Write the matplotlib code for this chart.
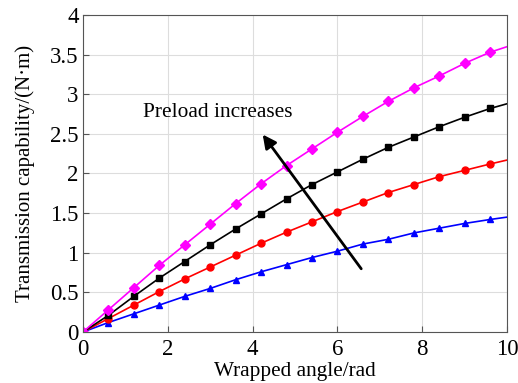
import numpy as np
import matplotlib.pyplot as plt

plt.rcParams['font.family'] = ['Liberation Serif', 'DejaVu Serif']

# wrapped angle (rad), markers every 0.6 rad, curve ends at 10
angle = [0, 0.6, 1.2, 1.8, 2.4, 3.0, 3.6, 4.2, 4.8, 5.4, 6.0, 6.6, 7.2, 7.8, 8.4, 9.0, 9.6, 10.0]

# transmission capability for four preload levels (low -> high)
torque_blue = [0, 0.12, 0.23, 0.34, 0.45, 0.55, 0.66, 0.76, 0.85, 0.94, 1.02, 1.11, 1.17, 1.25, 1.31, 1.37, 1.42, 1.45]
torque_red = [0, 0.17, 0.34, 0.51, 0.67, 0.82, 0.97, 1.12, 1.26, 1.39, 1.52, 1.64, 1.76, 1.86, 1.96, 2.04, 2.12, 2.17]
torque_black = [0, 0.21, 0.45, 0.68, 0.89, 1.10, 1.30, 1.49, 1.68, 1.86, 2.02, 2.18, 2.33, 2.46, 2.59, 2.71, 2.82, 2.88]
torque_magenta = [0, 0.28, 0.56, 0.84, 1.10, 1.36, 1.62, 1.87, 2.10, 2.31, 2.52, 2.72, 2.91, 3.08, 3.23, 3.39, 3.53, 3.60]

xticks = [0, 2, 4, 6, 8, 10]
yticks = [0, 0.5, 1, 1.5, 2, 2.5, 3, 3.5, 4]
ytick_labels = ["0", "0.5", "1", "1.5", "2", "2.5", "3", "3.5", "4"]

fig = plt.figure(figsize=(5.18, 3.83), dpi=100)
ax = fig.add_axes([0.160, 0.133, 0.819, 0.828])

marks = list(range(len(angle) - 1))  # no marker at the end point
ax.plot(angle, torque_blue, color='blue', lw=1.2, marker='^', ms=5, markevery=marks)
ax.plot(angle, torque_red, color='red', lw=1.2, marker='o', ms=5, markevery=marks)
ax.plot(angle, torque_black, color='black', lw=1.2, marker='s', ms=3.8, markevery=marks)
ax.plot(angle, torque_magenta, color='magenta', lw=1.2, marker='D', ms=5, markevery=marks)

# arrow showing the preload direction
ax.annotate('', xy=(4.2, 2.52), xytext=(6.6, 0.77),
            arrowprops=dict(arrowstyle='-|>', color='black', lw=2, mutation_scale=20))
ax.text(1.42, 2.77, 'Preload increases', fontsize=15.4, va='center', ha='left')

ax.set_xlim(0, 10)
ax.set_ylim(0, 4)
ax.set_xticks(xticks)
ax.set_yticks(yticks)
ax.set_yticklabels(ytick_labels)
ax.tick_params(direction='in', labelsize=16.5, length=4, color='#555555')
ax.tick_params(axis='x', pad=5)
ax.tick_params(axis='y', pad=3)
ax.grid(True, color='#dddddd', lw=0.8)
ax.set_axisbelow(True)
for s in ax.spines.values():
    s.set_color('#555555')

ax.set_xlabel('Wrapped angle/rad', fontsize=15.3, labelpad=1.5)
ax.set_ylabel('Transmission capability/(N·m)', fontsize=15, labelpad=11)

plt.savefig('out.png', dpi=100)
